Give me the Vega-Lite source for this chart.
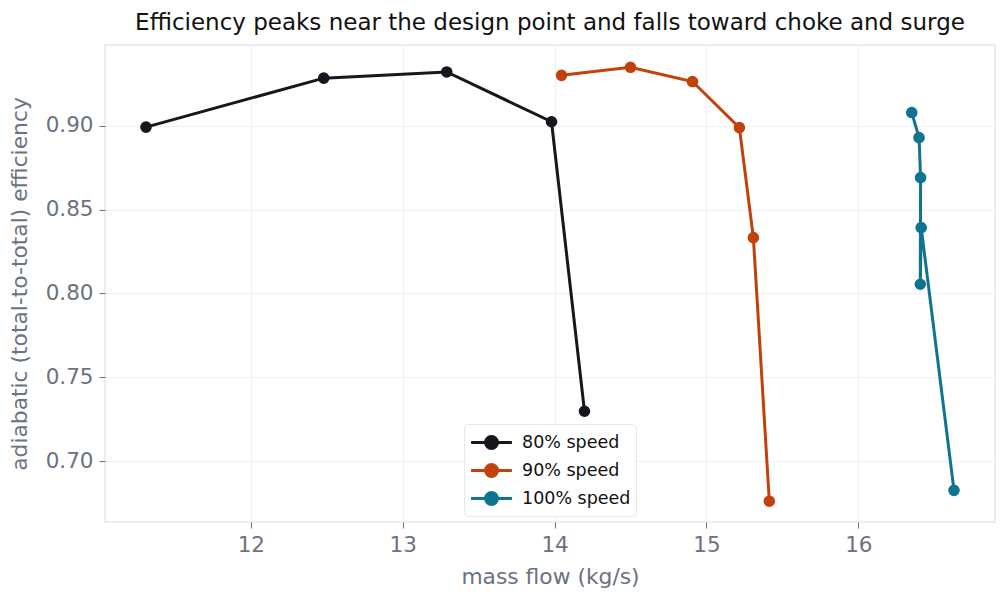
{
  "$schema": "https://vega.github.io/schema/vega-lite/v6.json",
  "width": 890,
  "height": 477,
  "autosize": {"type": "none"},
  "padding": {"left": 105, "top": 45, "right": 13, "bottom": 79},
  "title": {
    "text": "Efficiency peaks near the design point and falls toward choke and surge",
    "font": "DejaVu Sans",
    "fontSize": 23,
    "fontWeight": "normal",
    "color": "#111111",
    "offset": 10
  },
  "config": {
    "font": "DejaVu Sans",
    "view": {"stroke": "#e5e7eb", "strokeWidth": 1.5},
    "axis": {
      "domain": false,
      "grid": true,
      "gridColor": "#f0f0f2",
      "gridWidth": 1,
      "tickColor": "#6b7280",
      "tickSize": 6,
      "labelColor": "#6b7280",
      "labelFontSize": 21.5,
      "labelPadding": 6,
      "titleColor": "#6b7280",
      "titleFontSize": 21.8,
      "titleFontWeight": "normal"
    }
  },
  "data": {
    "values": [
      {"speed": "80% speed", "seq": 1, "mass_flow": 11.31, "efficiency": 0.8993},
      {"speed": "80% speed", "seq": 2, "mass_flow": 12.48, "efficiency": 0.9285},
      {"speed": "80% speed", "seq": 3, "mass_flow": 13.29, "efficiency": 0.9322},
      {"speed": "80% speed", "seq": 4, "mass_flow": 13.98, "efficiency": 0.9025},
      {"speed": "80% speed", "seq": 5, "mass_flow": 14.197, "efficiency": 0.7297},
      {"speed": "90% speed", "seq": 1, "mass_flow": 14.046, "efficiency": 0.9302},
      {"speed": "90% speed", "seq": 2, "mass_flow": 14.5, "efficiency": 0.9350},
      {"speed": "90% speed", "seq": 3, "mass_flow": 14.908, "efficiency": 0.9265},
      {"speed": "90% speed", "seq": 4, "mass_flow": 15.217, "efficiency": 0.8990},
      {"speed": "90% speed", "seq": 5, "mass_flow": 15.309, "efficiency": 0.8333},
      {"speed": "90% speed", "seq": 6, "mass_flow": 15.414, "efficiency": 0.6760},
      {"speed": "100% speed", "seq": 1, "mass_flow": 16.352, "efficiency": 0.9080},
      {"speed": "100% speed", "seq": 2, "mass_flow": 16.4, "efficiency": 0.8930},
      {"speed": "100% speed", "seq": 3, "mass_flow": 16.41, "efficiency": 0.8692},
      {"speed": "100% speed", "seq": 4, "mass_flow": 16.408, "efficiency": 0.8055},
      {"speed": "100% speed", "seq": 5, "mass_flow": 16.414, "efficiency": 0.8393},
      {"speed": "100% speed", "seq": 6, "mass_flow": 16.63, "efficiency": 0.6825}
    ]
  },
  "mark": {"type": "line", "strokeWidth": 3, "point": {"size": 135, "filled": true, "opacity": 1}},
  "encoding": {
    "x": {
      "field": "mass_flow",
      "type": "quantitative",
      "title": "mass flow (kg/s)",
      "scale": {"domain": [11.04, 16.9], "nice": false, "zero": false},
      "axis": {"values": [12, 13, 14, 15, 16], "format": "d", "titlePadding": 11}
    },
    "y": {
      "field": "efficiency",
      "type": "quantitative",
      "title": "adiabatic (total-to-total) efficiency",
      "scale": {"domain": [0.6636, 0.9483], "nice": false, "zero": false},
      "axis": {"values": [0.7, 0.75, 0.8, 0.85, 0.9], "format": ".2f", "titlePadding": 14}
    },
    "order": {"field": "seq", "type": "quantitative"},
    "color": {
      "field": "speed",
      "type": "nominal",
      "sort": ["80% speed", "90% speed", "100% speed"],
      "scale": {"domain": ["80% speed", "90% speed", "100% speed"], "range": ["#16161d", "#c2410c", "#0e7490"]},
      "legend": {
        "title": null,
        "orient": "none",
        "legendX": 359,
        "legendY": 379,
        "direction": "vertical",
        "fillColor": "#ffffff",
        "strokeColor": "#e5e7eb",
        "cornerRadius": 4,
        "padding": 5,
        "labelFont": "DejaVu Sans",
        "labelFontSize": 17.5,
        "labelColor": "#111111",
        "labelOffset": 17,
        "rowPadding": 2,
        "symbolType": "M-1.7,0H-0.5M0.5,0H1.7M-0.5,0A0.5,0.5 0 1,1 0.5,0A0.5,0.5 0 1,1 -0.5,0Z",
        "symbolSize": 576,
        "symbolStrokeWidth": 3,
        "symbolOpacity": 1,
        "symbolOffset": 9
      }
    }
  }
}
